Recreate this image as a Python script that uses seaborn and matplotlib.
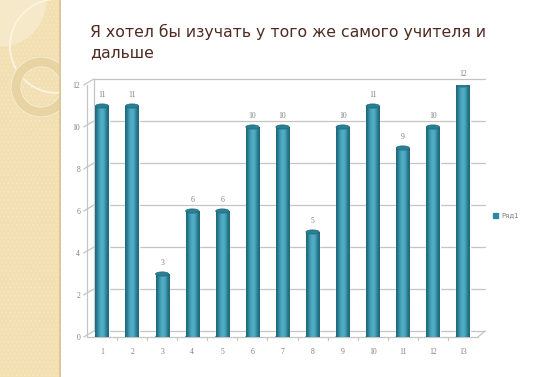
import matplotlib
matplotlib.use("Agg")
import matplotlib.pyplot as plt
import matplotlib.patches as mpatches
from matplotlib.transforms import offset_copy
import numpy as np
import pandas as pd
import seaborn as sns

# data
categories = ["1", "2", "3", "4", "5", "6", "7", "8", "9", "10", "11", "12", "13"]
values = [11, 11, 3, 6, 6, 10, 10, 5, 10, 11, 9, 10, 12]
series_name = "Ряд1"
title = "Я хотел бы изучать у того же самого учителя и\nдальше"
y_ticks = [0, 2, 4, 6, 8, 10, 12]

W, H = 547, 377
sns.set_theme(style="white")
plt.rcParams["font.family"] = ["DejaVu Sans"]
plt.rcParams["hatch.linewidth"] = 0.6

fig = plt.figure(figsize=(W / 100, H / 100), dpi=100)
fig.patch.set_facecolor("white")


def px(x, y):
    return x / W, 1 - y / H


# decorative left panel
deco = fig.add_axes([0, 0, 61 / W, 1])
deco.set_xlim(0, 61)
deco.set_ylim(H, 0)
deco.axis("off")
deco.add_patch(mpatches.Rectangle((0, 0), 60, H, fc="#f2dfb2", ec="#f6e8c6",
                                  hatch="....", lw=0, zorder=0))
clip = mpatches.Rectangle((0, 0), 59.5, H, transform=deco.transData)
light = mpatches.Circle((0, 0), 46, color="#f6e9c9", zorder=1)
deco.add_patch(light)
light.set_clip_path(clip)
c1 = mpatches.Circle((57, 46), 47, fill=False, ec="#fbf4e2", lw=1.3, zorder=2)
deco.add_patch(c1)
c1.set_clip_path(clip)
ring = mpatches.Annulus((41, 87), 30, 10, color="#e8d3a2", zorder=2)
deco.add_patch(ring)
ring.set_clip_path(clip)
for r in (30, 20):
    edge = mpatches.Circle((41, 87), r, fill=False, ec="#f7edd4", lw=0.8, zorder=3)
    deco.add_patch(edge)
    edge.set_clip_path(clip)
deco.plot([59.8, 59.8], [0, H], color="#dcc897", lw=1.4, zorder=4)

# title
fig.text(*px(90, 42), title, fontsize=11.3, color="#4e2a20", ha="left",
         va="center", linespacing=1.4)

# main axes (front plane)
left, right, bottom, top = 87, 478, 337, 85
ax = fig.add_axes([left / W, 1 - bottom / H, (right - left) / W, (bottom - top) / H])
ax.set_facecolor("none")
df = pd.DataFrame({"cat": categories, "val": values})
sns.barplot(data=df, x="cat", y="val", color="#2f8aa1", width=0.44, ax=ax,
            saturation=1, zorder=3)

# cylinder shading
grad = np.array([[0.0, 0.35, 0.7, 0.9, 0.75, 0.3, 0.0]])
cmap = matplotlib.colors.LinearSegmentedColormap.from_list(
    "cyl", ["#1f687b", "#3b9bb3", "#5cb5ca"])
for p in ax.patches:
    x0, w, h = p.get_x(), p.get_width(), p.get_height()
    im = ax.imshow(grad, extent=(x0, x0 + w, 0, h), aspect="auto", cmap=cmap,
                   vmin=0, vmax=1, zorder=3.5, interpolation="bicubic")
    im.set_clip_path(p)
    ax.add_patch(mpatches.Ellipse((x0 + w / 2, h), w, 0.2, color="#2b7f93",
                                  ec="#1f6a7c", lw=0.5, zorder=4))
    ax.add_patch(mpatches.Ellipse((x0 + w / 2, 0), w, 0.2, color="#3a97ad",
                                  zorder=2.9))
    ax.annotate(f"{int(h)}", (x0 + w / 2, h), xytext=(0, 5),
                textcoords="offset points", ha="center", va="bottom",
                fontsize=5.5, color="#7f7f7f", family="Liberation Serif")
ax.set_xlim(-0.5, 12.5)
ax.set_ylim(0, 12)

# back wall grid and 3D frame
back = offset_copy(ax.transData, fig=fig, x=7, y=6, units="dots")
gc = "#c4c4c4"
inv = fig.transFigure.inverted()


def connect(pt, dx=0.0):
    fa = inv.transform(ax.transData.transform(pt))
    fb = inv.transform(back.transform(pt))
    fig.add_artist(plt.Line2D([fa[0] - dx, fb[0]], [fa[1], fb[1]], color=gc,
                              lw=0.9))


for v in y_ticks:
    ax.plot([-0.5, 12.5], [v, v], transform=back, color=gc, lw=0.9, zorder=1,
            clip_on=False)
    connect((-0.5, v), dx=0.006)
connect((12.5, 0))
ax.plot([-0.5, -0.5], [0, 12], transform=back, color=gc, lw=0.9, clip_on=False)
ax.plot([-0.5, 12.5], [0, 0], color=gc, lw=0.9, clip_on=False)
ax.plot([-0.5, -0.5], [0, 12], color=gc, lw=0.9, clip_on=False)

for s in ax.spines.values():
    s.set_visible(False)
ax.set_yticks(y_ticks)
ax.set_yticklabels([str(t) for t in y_ticks], fontsize=5.5, color="#7f7f7f",
                   family="Liberation Serif")
ax.set_xticks(range(len(categories)))
ax.set_xticklabels(categories, fontsize=5.5, color="#7f7f7f",
                   family="Liberation Serif")
ax.tick_params(axis="y", length=0, pad=5)
ax.tick_params(axis="x", length=0, pad=8)
for t in np.arange(0.5, 12.5, 1.0):
    ax.plot([t, t], [0, -0.12], color=gc, lw=0.9, clip_on=False)
ax.set_xlabel("")
ax.set_ylabel("")

# legend
fig.patches.append(mpatches.Rectangle(px(493, 218), 5 / W, 5 / H, color="#2f8aa1",
                                      transform=fig.transFigure, figure=fig))
fig.text(*px(501, 215), series_name, fontsize=5, color="#7f7f7f", va="center")

fig.savefig("out.png", dpi=100)
